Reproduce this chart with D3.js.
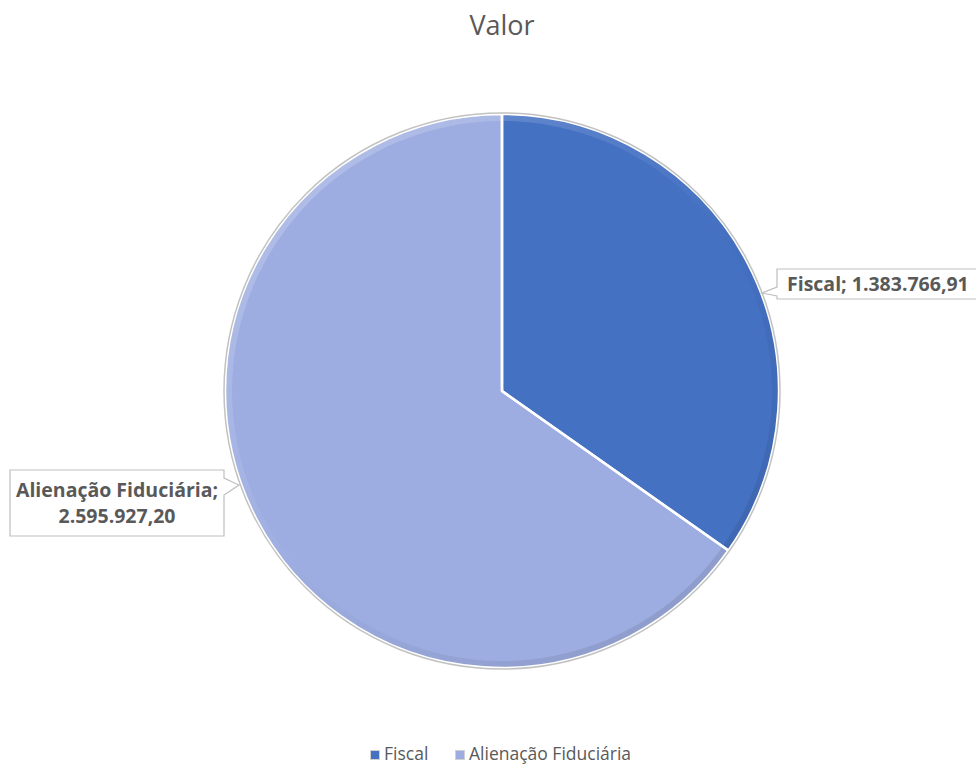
<!DOCTYPE html>
<html>
<head>
<meta charset="utf-8">
<script src="https://cdn.jsdelivr.net/npm/d3@7"></script>
<style>
  body { margin: 0; background: #ffffff; }
  text { font-family: "Open Sans", "Liberation Sans", sans-serif; }
</style>
</head>
<body>
<div id="chart"></div>
<script>
var categories = ['Fiscal', 'Alienação Fiduciária'];
var values = [1383766.91, 2595927.20];
var valueLabels = ['1.383.766,91', '2.595.927,20'];
var colors = ['#4571c3', '#9dade1'];

var width = 976, height = 765;
var cx = 502, cy = 391, r = 277;

var svg = d3.select('#chart').append('svg')
    .attr('width', width).attr('height', height);

var defs = svg.append('defs');
// bevel light: bright top-left, darker bottom-right
var bevel = defs.append('linearGradient')
    .attr('id', 'bevel')
    .attr('x1', '15%').attr('y1', '10%').attr('x2', '85%').attr('y2', '90%');
bevel.append('stop').attr('offset', '0%').attr('stop-color', '#ffffff').attr('stop-opacity', 0.2);
bevel.append('stop').attr('offset', '45%').attr('stop-color', '#ffffff').attr('stop-opacity', 0.03);
bevel.append('stop').attr('offset', '60%').attr('stop-color', '#000000').attr('stop-opacity', 0.02);
bevel.append('stop').attr('offset', '100%').attr('stop-color', '#000000').attr('stop-opacity', 0.1);

// title
svg.append('text')
    .attr('x', cx).attr('y', 35)
    .attr('text-anchor', 'middle')
    .attr('font-size', 27)
    .attr('fill', '#595959')
    .text('Valor');

var pie = d3.pie().sort(null).value(function(d) { return d; });
var arcs = pie(values);
var arc = d3.arc().innerRadius(0).outerRadius(r);
var rim = d3.arc().innerRadius(r - 7).outerRadius(r);

var g = svg.append('g').attr('transform', 'translate(' + cx + ',' + cy + ')');

g.selectAll('path.slice').data(arcs).enter().append('path')
    .attr('class', 'slice')
    .attr('d', arc)
    .attr('fill', function(d, i) { return colors[i]; })
    .attr('stroke', 'none');

// bevel rim
g.append('path')
    .attr('d', rim({ startAngle: 0, endAngle: 2 * Math.PI }))
    .attr('fill', 'url(#bevel)');

// slice separators
g.selectAll('path.sep').data(arcs).enter().append('path')
    .attr('class', 'sep')
    .attr('d', arc)
    .attr('fill', 'none')
    .attr('stroke', '#ffffff')
    .attr('stroke-width', 2.5)
    .attr('stroke-linejoin', 'round');

// outer grey rim
g.append('circle').attr('r', r + 1)
    .attr('fill', 'none').attr('stroke', '#c2c2c2').attr('stroke-width', 1.5);

// data labels with callout boxes
var labelBoxes = [
    { x: 777, y: 269, w: 215, h: 30, lines: [categories[0] + '; ' + valueLabels[0]], side: 'left' },
    { x: 10, y: 470, w: 214, h: 66, lines: [categories[1] + ';', valueLabels[1]], side: 'right' }
];

labelBoxes.forEach(function(b, i) {
    var lg = svg.append('g');
    var p, tx, ty;
    if (b.side === 'left') {
        tx = b.x - 15; ty = b.y + 24;
        p = 'M' + b.x + ',' + b.y + ' H' + (b.x + b.w) + ' V' + (b.y + b.h) + ' H' + b.x +
            ' V' + (b.y + b.h - 3) + ' L' + tx + ',' + ty + ' L' + b.x + ',' + (b.y + 18) + ' Z';
    } else {
        var rx = b.x + b.w;
        tx = rx + 15; ty = b.y + 15;
        p = 'M' + b.x + ',' + b.y + ' H' + rx + ' V' + (b.y + 8) + ' L' + tx + ',' + ty +
            ' L' + rx + ',' + (b.y + 25) + ' V' + (b.y + b.h) + ' H' + b.x + ' Z';
    }
    lg.append('path').attr('d', p)
        .attr('fill', '#ffffff').attr('stroke', '#bfbfbf').attr('stroke-width', 1.2);
    b.lines.forEach(function(line, k) {
        lg.append('text')
            .attr('x', b.side === 'left' ? b.x + 10 : b.x + b.w / 2)
            .attr('y', b.side === 'left' ? b.y + 22 : b.y + 27 + k * 26)
            .attr('text-anchor', b.side === 'left' ? 'start' : 'middle')
            .attr('font-size', 19.5)
            .attr('font-weight', 'bold')
            .attr('fill', '#595959')
            .text(line);
    });
});

// legend
var legendX = [370, 455];
var legend = svg.append('g');
categories.forEach(function(c, i) {
    var lg = legend.append('g').attr('transform', 'translate(' + legendX[i] + ',750)');
    lg.append('rect').attr('x', 0.5).attr('y', 0.5).attr('width', 9).attr('height', 9)
        .attr('fill', colors[i]).attr('stroke', '#d0d0d0').attr('stroke-width', 1);
    lg.append('text').attr('x', 14).attr('y', 10)
        .attr('font-size', 17.5).attr('fill', '#595959').text(c);
});
</script>
</body>
</html>
